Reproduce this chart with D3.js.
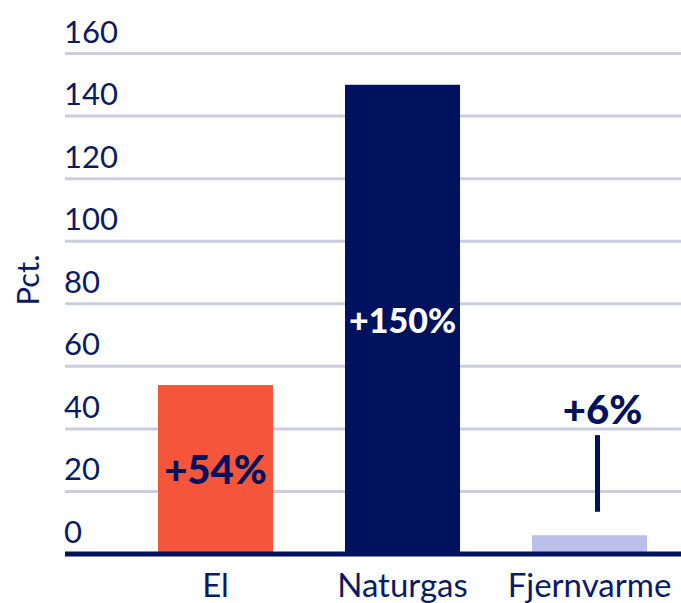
<!DOCTYPE html>
<html>
<head>
<meta charset="utf-8">
<script src="https://cdn.jsdelivr.net/npm/d3@7"></script>
<style>
  body { margin: 0; background: #fff; }
  text { font-family: Lato, "Open Sans", sans-serif; }
</style>
</head>
<body>
<div id="chart"></div>
<script>
'use strict';

var categories = ["El", "Naturgas", "Fjernvarme"];
var values = [54, 150, 6];
var valueLabels = ["+54%", "+150%", "+6%"];
var yTicks = [0, 20, 40, 60, 80, 100, 120, 140, 160];

var width = 681;
var height = 603;
var navy = "#00115E";
var textNavy = "#0A1A63";
var barColors = ["#F5553B", "#00115E", "#BCBFE9"];
var labelColors = [navy, "#ffffff", navy];

var svg = d3.select("#chart")
    .append("svg")
    .attr("width", width)
    .attr("height", height);

var y = d3.scaleLinear()
    .domain([0, 160])
    .range([554, 53.5]);

var x = d3.scaleBand()
    .domain(categories)
    .range([122, 683])
    .paddingInner(0.385)
    .paddingOuter(0.1925);

// grid lines, labels sit above each line
var grid = svg.append("g");
grid.selectAll("line")
    .data(yTicks.filter(function (d) { return d > 0; }))
    .enter()
    .append("line")
    .attr("x1", 65)
    .attr("x2", width)
    .attr("y1", function (d) { return y(d); })
    .attr("y2", function (d) { return y(d); })
    .style("stroke", "#CBCEE0")
    .style("stroke-width", 3);

grid.selectAll("text")
    .data(yTicks)
    .enter()
    .append("text")
    .attr("x", 64)
    .attr("y", function (d) { return y(d) - 11; })
    .text(function (d) { return d; })
    .style("fill", textNavy)
    .style("font-size", "31px");

svg.selectAll("rect.bar")
    .data(values)
    .enter()
    .append("rect")
    .attr("class", "bar")
    .attr("x", function (d, i) { return x(categories[i]); })
    .attr("width", x.bandwidth())
    .attr("y", function (d) { return y(d); })
    .attr("height", function (d) { return y(0) - y(d); })
    .style("fill", function (d, i) { return barColors[i]; });

// baseline
svg.append("line")
    .attr("x1", 65)
    .attr("x2", width)
    .attr("y1", y(0))
    .attr("y2", y(0))
    .style("stroke", navy)
    .style("stroke-width", 5);

// category labels
svg.selectAll("text.cat")
    .data(categories)
    .enter()
    .append("text")
    .attr("class", "cat")
    .attr("x", function (d) { return x(d) + x.bandwidth() / 2; })
    .attr("y", 597)
    .attr("text-anchor", "middle")
    .text(function (d) { return d; })
    .style("fill", textNavy)
    .style("font-size", "33px");

// value labels: inside the bar at mid height, or above with a leader when the bar is small
var small = function (d) { return d < 20; };

svg.selectAll("text.val")
    .data(values)
    .enter()
    .append("text")
    .attr("class", "val")
    .attr("x", function (d, i) { return x(categories[i]) + x.bandwidth() / 2 + (small(d) ? 13 : 0); })
    .attr("y", function (d) { return small(d) ? y(41.5) : y(d / 2) + 14; })
    .attr("text-anchor", "middle")
    .text(function (d, i) { return valueLabels[i]; })
    .style("fill", function (d, i) { return labelColors[i]; })
    .style("font-weight", 900)
    .style("font-size", function (d) { return d > 100 ? "34px" : "40px"; });

svg.selectAll("line.leader")
    .data(values.filter(small))
    .enter()
    .append("line")
    .attr("class", "leader")
    .attr("x1", x("Fjernvarme") + x.bandwidth() / 2 + 8)
    .attr("x2", x("Fjernvarme") + x.bandwidth() / 2 + 8)
    .attr("y1", y(38))
    .attr("y2", y(13.5))
    .style("stroke", navy)
    .style("stroke-width", 5);

svg.append("text")
    .attr("transform", "translate(39,280) rotate(-90)")
    .attr("text-anchor", "middle")
    .text("Pct.")
    .style("fill", textNavy)
    .style("font-size", "31px");
</script>
</body>
</html>
